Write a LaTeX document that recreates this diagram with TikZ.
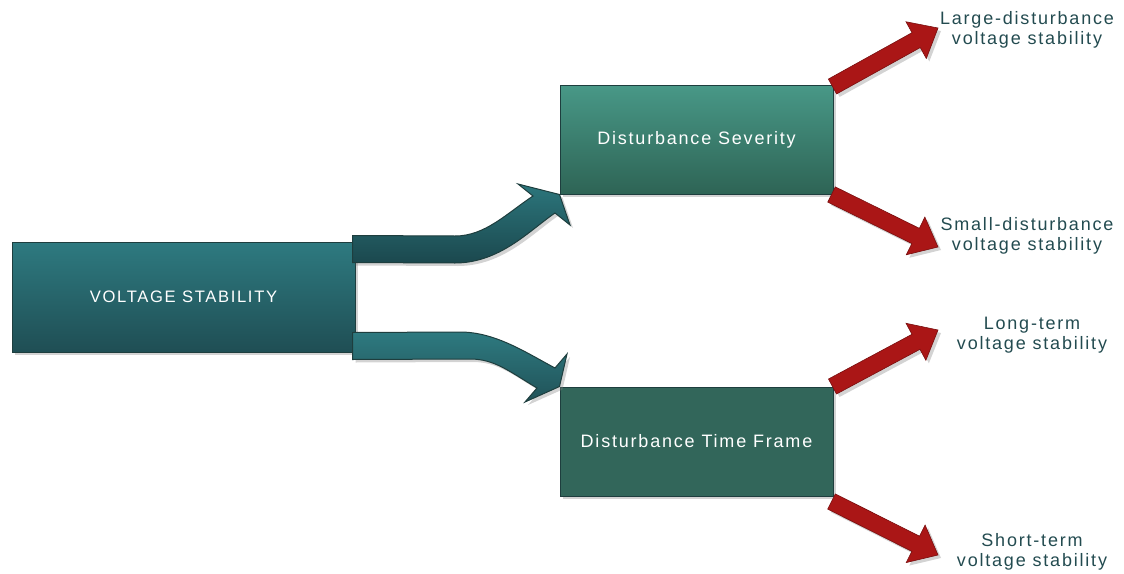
\documentclass[tikz,border=0pt]{standalone}
\usepackage{fontspec}
\setmainfont{Liberation Sans}[LetterSpace=10]
\usetikzlibrary{calc,shadows}

\definecolor{vstop}{RGB}{46,122,128}
\definecolor{vsbot}{RGB}{31,78,84}
\definecolor{sevtop}{RGB}{72,152,135}
\definecolor{sevbot}{RGB}{46,100,85}
\definecolor{tfcol}{RGB}{50,102,90}
\definecolor{boxedge}{RGB}{30,62,62}
\definecolor{bandtop}{RGB}{44,118,124}
\definecolor{bandbot}{RGB}{27,72,78}
\definecolor{arrred}{RGB}{170,22,22}
\definecolor{arredge}{RGB}{120,14,14}
\definecolor{lbltext}{RGB}{35,75,80}

% block arrow from tail #1 to tip #2
\newcommand\blockarrow[2]{%
  \coordinate (hb) at ($(#2)!12.5pt!(#1)$);
  \path[redarrow] ($(#1)!4.25pt!90:(#2)$) -- ($(hb)!4.25pt!90:(#2)$)
    -- ($(hb)!10.5pt!90:(#2)$) -- (#2) -- ($(hb)!10.5pt!-90:(#2)$)
    -- ($(hb)!4.25pt!-90:(#2)$) -- ($(#1)!4.25pt!-90:(#2)$) -- cycle;}

\begin{document}
\begin{tikzpicture}[
  x=0.5pt, y=-0.5pt,
  shade/.style={drop shadow={opacity=0.35, shadow xshift=1.5pt, shadow yshift=-1.5pt}},
  box/.style={draw=boxedge, line width=0.5pt, inner sep=0pt, text=white,
    font=\fontsize{9}{10}\selectfont, shade},
  band/.style={draw=boxedge, line width=0.5pt, shade},
  redarrow/.style={fill=arrred, draw=arredge, line width=0.3pt, shade},
  lbl/.style={align=center, text=lbltext, inner sep=0pt,
    font=\fontsize{9}{10}\selectfont}
]
  \useasboundingbox (0,0) rectangle (1124,573);

  \node[box, top color=vstop, bottom color=vsbot, minimum width=171.5pt,
    minimum height=55pt, font=\fontsize{8.3}{10}\selectfont] (vs) at (183.5,297) {VOLTAGE STABILITY};
  \node[box, top color=sevtop, bottom color=sevbot, minimum width=136.5pt,
    minimum height=54.5pt] (sev) at (696.5,139.5) {Disturbance Severity};
  \node[box, fill=tfcol, minimum width=136.5pt,
    minimum height=54.5pt] (tf) at (696.5,441.5) {Disturbance Time Frame};

  % curved arrows out of the main box
  \path[band, top color=bandtop, bottom color=bandbot]
    ($(vs.north east)+(-3,-6)$) -- (455,236) .. controls (485,236) and (506,214) .. (533,196)
    -- (518,184) -- (sev.south west) -- (570,225) -- (555,213)
    .. controls (530,230) and (500,263) .. (455,263) -- ($(vs.north east)+(-3,21)$) -- cycle;
  \path[band, top color=vstop, bottom color=vsbot!90!bandtop]
    ($(vs.south east)+(-3,-20)$) -- (460,332) .. controls (495,332) and (525,352) .. (555,368)
    -- (567,354) -- (tf.north west) -- (525,402) -- (537,388)
    .. controls (510,372) and (495,359) .. (470,359) -- ($(vs.south east)+(-3,7)$) -- cycle;

  \node[lbl] (lgd) at (1027,30) {Large-disturbance\\voltage stability};
  \node[lbl] (smd) at (1027,236) {Small-disturbance\\voltage stability};
  \node[lbl] (lt) at (1032,335) {Long-term\\voltage stability};
  \node[lbl] (st) at (1032,552) {Short-term\\voltage stability};

  \coordinate (t1) at (938,28);
  \coordinate (t2) at (938,247);
  \coordinate (t3) at (938,330);
  \coordinate (t4) at (938,555);
  \coordinate (s1) at ($(sev.north east)+(-1,2)$);
  \coordinate (s2) at ($(sev.south east)+(-2,0)$);
  \coordinate (s3) at ($(tf.north east)+(-1,0)$);
  \coordinate (s4) at ($(tf.south east)+(-2,5)$);

  \blockarrow{s1}{t1}
  \blockarrow{s2}{t2}
  \blockarrow{s3}{t3}
  \blockarrow{s4}{t4}
\end{tikzpicture}
\end{document}
